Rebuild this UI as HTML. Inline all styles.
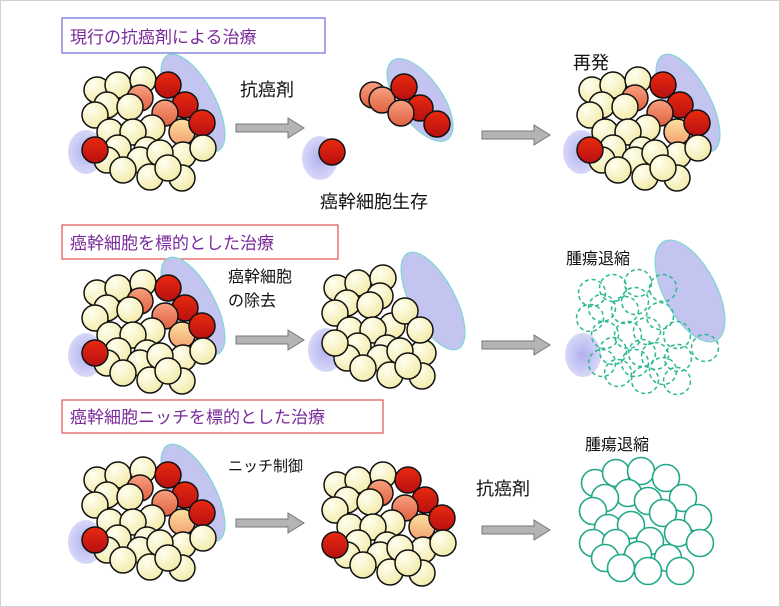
<!DOCTYPE html>
<html><head><meta charset="utf-8"><style>
html,body{margin:0;padding:0;background:#fff}
svg{display:block}
text{font-family:"Liberation Sans","Noto Sans CJK JP",sans-serif}
</style></head><body>
<svg width="780" height="607" viewBox="0 0 780 607" xmlns="http://www.w3.org/2000/svg">
<defs>
<radialGradient id="cr" cx="35%" cy="30%" r="75%"><stop offset="0" stop-color="#fffff0"/><stop offset="1" stop-color="#f3eaa8"/></radialGradient>
<linearGradient id="rd" x1="0" y1="0" x2="0" y2="1"><stop offset="0" stop-color="#e82a10"/><stop offset="1" stop-color="#b81010"/></linearGradient>
<linearGradient id="sa" x1="0" y1="0" x2="0" y2="1"><stop offset="0" stop-color="#f8a080"/><stop offset="1" stop-color="#e06040"/></linearGradient>
<linearGradient id="or" x1="0" y1="0" x2="0" y2="1"><stop offset="0" stop-color="#fde0a0"/><stop offset="1" stop-color="#f4a070"/></linearGradient>
<radialGradient id="bl" cx="50%" cy="50%" r="60%"><stop offset="0" stop-color="#b0b0ee"/><stop offset="1" stop-color="#e0e0fa"/></radialGradient>
<g id="blob"><ellipse cx="0" cy="0" rx="22" ry="54" fill="#c4c4f0" stroke="#7fd6d6" stroke-width="1.2"/></g>
<g id="cloud"><ellipse cx="0" cy="0" rx="18" ry="22" fill="url(#bl)"/></g>
<g id="pos" stroke="#111" stroke-width="1.5">
<circle cx="97" cy="90" r="13" fill="url(#cr)"/>
<circle cx="118" cy="85" r="13" fill="url(#cr)"/>
<circle cx="143" cy="80" r="13" fill="url(#cr)"/>
<circle cx="140" cy="98" r="13" fill="url(#sa)"/>
<circle cx="107" cy="105" r="13" fill="url(#cr)"/>
<circle cx="130" cy="107" r="13" fill="url(#cr)"/>
<circle cx="168" cy="85" r="13" fill="url(#rd)"/>
<circle cx="95" cy="115" r="13" fill="url(#cr)"/>
<circle cx="185" cy="105" r="13" fill="url(#rd)"/>
<circle cx="165" cy="113" r="13" fill="url(#sa)"/>
<circle cx="152" cy="128" r="13" fill="url(#cr)"/>
<circle cx="110" cy="132" r="13" fill="url(#cr)"/>
<circle cx="133" cy="132" r="13" fill="url(#cr)"/>
<circle cx="182" cy="132" r="13" fill="url(#or)"/>
<circle cx="202" cy="123" r="13" fill="url(#rd)"/>
<circle cx="118" cy="148" r="13" fill="url(#cr)"/>
<circle cx="107" cy="160" r="13" fill="url(#cr)"/>
<circle cx="147" cy="150" r="13" fill="url(#cr)"/>
<circle cx="183" cy="155" r="13" fill="url(#cr)"/>
<circle cx="203" cy="148" r="13" fill="url(#cr)"/>
<circle cx="140" cy="160" r="13" fill="url(#cr)"/>
<circle cx="160" cy="153" r="13" fill="url(#cr)"/>
<circle cx="95" cy="150" r="13" fill="url(#rd)"/>
<circle cx="123" cy="170" r="13" fill="url(#cr)"/>
<circle cx="150" cy="177" r="13" fill="url(#cr)"/>
<circle cx="182" cy="178" r="13" fill="url(#cr)"/>
<circle cx="168" cy="168" r="13" fill="url(#cr)"/>
</g>
<g id="full">
<use href="#blob" transform="translate(193,103) rotate(-28)"/>
<use href="#cloud" transform="translate(86,152)"/>
<use href="#pos"/>
</g>
<g id="arrow"><polygon points="0,6 52,6 52,0 68,10 52,20 52,14 0,14" fill="#b4b4b4" stroke="#777" stroke-width="1"/></g>
</defs>
<rect x="0.5" y="0.5" width="779" height="606" fill="#fff" stroke="#d0d0d0"/>

<!-- Row 1 -->
<rect x="62" y="18" width="263" height="35" fill="#fff" stroke="#6a6adc" stroke-width="1.2"/>
<text x="70" y="43" font-size="17" fill="#7a2a9a">現行の抗癌剤による治療</text>
<use href="#full"/>
<text x="240" y="96" font-size="18" fill="#111">抗癌剤</text>
<use href="#arrow" transform="translate(236,118)"/>
<use href="#cloud" transform="translate(320,158)"/>
<circle cx="332" cy="152" r="13" fill="url(#rd)" stroke="#111" stroke-width="1.5"/>
<ellipse cx="420" cy="100" rx="22" ry="48" fill="#c4c4f0" stroke="#7fd6d6" stroke-width="1.2" transform="rotate(-35 420 100)"/>
<g stroke="#111" stroke-width="1.5">
<circle cx="373" cy="95" r="13" fill="url(#sa)"/>
<circle cx="382" cy="100" r="13" fill="url(#sa)"/>
<circle cx="404" cy="87" r="13" fill="url(#rd)"/>
<circle cx="420" cy="108" r="13" fill="url(#rd)"/>
<circle cx="401" cy="113" r="13" fill="url(#sa)"/>
<circle cx="437" cy="124" r="13" fill="url(#rd)"/>
</g>
<text x="320" y="208" font-size="18" fill="#111">癌幹細胞生存</text>
<use href="#arrow" transform="translate(482,125)"/>
<text x="573" y="69" font-size="18" fill="#111">再発</text>
<use href="#full" transform="translate(495,0)"/>

<!-- Row 2 -->
<rect x="62" y="225" width="276" height="34" fill="#fff" stroke="#e05050" stroke-width="1.2"/>
<text x="70" y="249" font-size="17" fill="#7a2a9a">癌幹細胞を標的とした治療</text>
<use href="#full" transform="translate(0,203)"/>
<text x="228" y="282" font-size="16" fill="#111">癌幹細胞</text>
<text x="228" y="306" font-size="16" fill="#111">の除去</text>
<use href="#arrow" transform="translate(236,330)"/>
<g transform="translate(240,198)">
<use href="#blob" transform="translate(193,103) rotate(-28)"/>
<use href="#cloud" transform="translate(86,152)"/>
<g stroke="#111" stroke-width="1.5" fill="url(#cr)">
<circle cx="97" cy="90" r="13"/><circle cx="118" cy="85" r="13"/><circle cx="143" cy="80" r="13"/>
<circle cx="140" cy="98" r="13"/><circle cx="107" cy="105" r="13"/><circle cx="130" cy="107" r="13"/>
<circle cx="95" cy="115" r="13"/><circle cx="152" cy="128" r="13"/>
<circle cx="110" cy="132" r="13"/><circle cx="133" cy="132" r="13"/><circle cx="165" cy="113" r="13"/>
<circle cx="118" cy="148" r="13"/><circle cx="107" cy="160" r="13"/><circle cx="147" cy="150" r="13"/>
<circle cx="183" cy="155" r="13"/><circle cx="180" cy="132" r="13"/><circle cx="140" cy="160" r="13"/>
<circle cx="160" cy="153" r="13"/><circle cx="95" cy="145" r="13"/><circle cx="123" cy="170" r="13"/>
<circle cx="150" cy="177" r="13"/><circle cx="182" cy="178" r="13"/><circle cx="168" cy="168" r="13"/>
</g></g>
<use href="#arrow" transform="translate(482,335)"/>
<text x="566" y="264" font-size="16" fill="#111">腫瘍退縮</text>
<g transform="translate(495,203)">
<ellipse cx="195" cy="88" rx="26" ry="56" fill="#c4c4f0" stroke="#7fd6d6" stroke-width="1.2" transform="rotate(-28 195 88)"/>
<use href="#cloud" transform="translate(88,152)"/>
<g stroke="#2ab890" stroke-width="1.5" fill="none" stroke-dasharray="4,3">
<circle cx="97" cy="90" r="13.5"/><circle cx="118" cy="85" r="13.5"/><circle cx="143" cy="80" r="13.5"/>
<circle cx="140" cy="98" r="13.5"/><circle cx="107" cy="105" r="13.5"/><circle cx="130" cy="107" r="13.5"/>
<circle cx="168" cy="85" r="13.5"/><circle cx="95" cy="115" r="13.5"/><circle cx="165" cy="113" r="13.5"/>
<circle cx="152" cy="128" r="13.5"/><circle cx="110" cy="132" r="13.5"/><circle cx="133" cy="132" r="13.5"/>
<circle cx="182" cy="132" r="13.5"/><circle cx="118" cy="148" r="13.5"/><circle cx="107" cy="160" r="13.5"/>
<circle cx="147" cy="150" r="13.5"/><circle cx="183" cy="155" r="13.5"/><circle cx="210" cy="145" r="13.5"/>
<circle cx="140" cy="160" r="13.5"/><circle cx="160" cy="153" r="13.5"/><circle cx="123" cy="170" r="13.5"/>
<circle cx="150" cy="177" r="13.5"/><circle cx="182" cy="178" r="13.5"/><circle cx="168" cy="168" r="13.5"/>
</g></g>

<!-- Row 3 -->
<rect x="62" y="400" width="321" height="33" fill="#fff" stroke="#e05050" stroke-width="1.2"/>
<text x="70" y="423" font-size="17" fill="#7a2a9a">癌幹細胞ニッチを標的とした治療</text>
<use href="#full" transform="translate(0,390)"/>
<text x="228" y="471" font-size="15" fill="#111">ニッチ制御</text>
<use href="#arrow" transform="translate(236,513)"/>
<use href="#pos" transform="translate(240,395)"/>
<text x="476" y="495" font-size="18" fill="#111">抗癌剤</text>
<use href="#arrow" transform="translate(482,520)"/>
<text x="585" y="450" font-size="16" fill="#111">腫瘍退縮</text>
<g transform="translate(498,393)" stroke="#22a888" stroke-width="1.6" fill="#fff">
<circle cx="97" cy="90" r="13.5"/><circle cx="118" cy="80" r="13.5"/><circle cx="143" cy="78" r="13.5"/>
<circle cx="168" cy="85" r="13.5"/><circle cx="130" cy="100" r="13.5"/><circle cx="107" cy="105" r="13.5"/>
<circle cx="150" cy="108" r="13.5"/><circle cx="185" cy="105" r="13.5"/><circle cx="95" cy="118" r="13.5"/>
<circle cx="165" cy="120" r="13.5"/><circle cx="200" cy="125" r="13.5"/><circle cx="110" cy="135" r="13.5"/>
<circle cx="133" cy="132" r="13.5"/><circle cx="180" cy="140" r="13.5"/><circle cx="95" cy="150" r="13.5"/>
<circle cx="118" cy="150" r="13.5"/><circle cx="152" cy="148" r="13.5"/><circle cx="202" cy="150" r="13.5"/>
<circle cx="107" cy="165" r="13.5"/><circle cx="140" cy="162" r="13.5"/><circle cx="170" cy="165" r="13.5"/>
<circle cx="123" cy="175" r="13.5"/><circle cx="150" cy="178" r="13.5"/><circle cx="182" cy="178" r="13.5"/>
</g>
</svg>
</body></html>
